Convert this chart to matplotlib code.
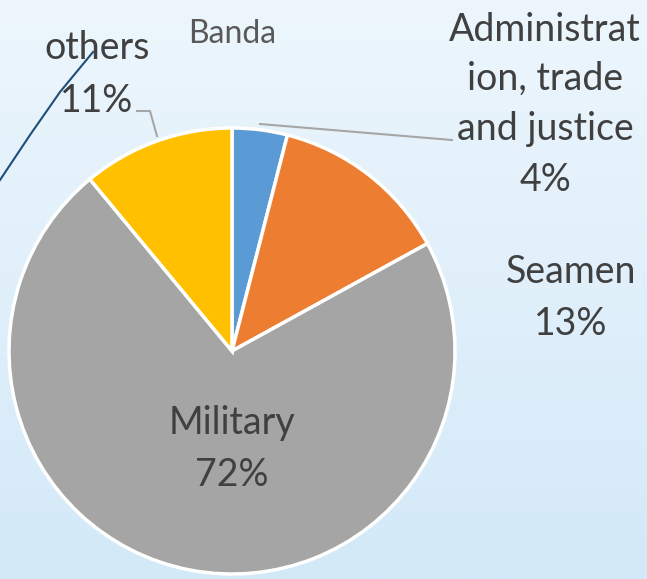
import numpy as np
import matplotlib.pyplot as plt
from matplotlib.colors import LinearSegmentedColormap

labels = ['Administration, trade and justice', 'Seamen', 'Military', 'others']
shares = [4, 13, 72, 11]
colors = ['#5B9BD5', '#ED7D31', '#A5A5A5', '#FFC000']

W, H = 647, 579
fig = plt.figure(figsize=(W / 100, H / 100), dpi=100)
ax = fig.add_axes([0, 0, 1, 1])

# background gradient
bg = LinearSegmentedColormap.from_list('bg', ['#D3E9F8', '#EDF6FD'])
grad = np.linspace(0, 1, 256).reshape(-1, 1)
ax.imshow(grad, cmap=bg, extent=[0, W, 0, H], origin='lower', aspect='auto', zorder=0)

cx, cy, r = 232, H - 351, 223
ax.pie(shares, colors=colors, startangle=90, counterclock=False,
       center=(cx, cy), radius=r, frame=True,
       wedgeprops=dict(edgecolor='white', linewidth=2.5, zorder=2))
ax.set_xlim(0, W)
ax.set_ylim(0, H)
ax.axis('off')

font = 'Lato'
tc = '#404040'
fs = 27

def txt(x, y, s, size=fs, color=tc):
    ax.text(x, H - y, s, ha='center', va='center', fontsize=size,
            color=color, family=font, zorder=5)

txt(232, 34, 'Banda', size=23, color='#595959')

txt(545, 30, 'Administrat')
txt(545, 79, 'ion, trade')
txt(545, 129, 'and justice')
txt(545, 180, '%d%%' % shares[0])

txt(571, 272, labels[1])
txt(571, 324, '%d%%' % shares[1])

txt(232, 423, labels[2])
txt(232, 475, '%d%%' % shares[2])

txt(97, 48, labels[3])
txt(97, 101, '%d%%' % shares[3])

# leader lines
ax.plot([260, 452], [H - 124, H - 140], color='#A6A6A6', lw=1.5, zorder=4)
ax.plot([137, 150, 157], [H - 111, H - 111, H - 136], color='#A6A6A6', lw=1.5, zorder=4)

# decorative dark line
ax.plot([0, 30, 60, 93], [H - 180, H - 135, H - 92, H - 52], color='#1F4E79', lw=1.5, zorder=4)

fig.savefig('out.png', dpi=100)
